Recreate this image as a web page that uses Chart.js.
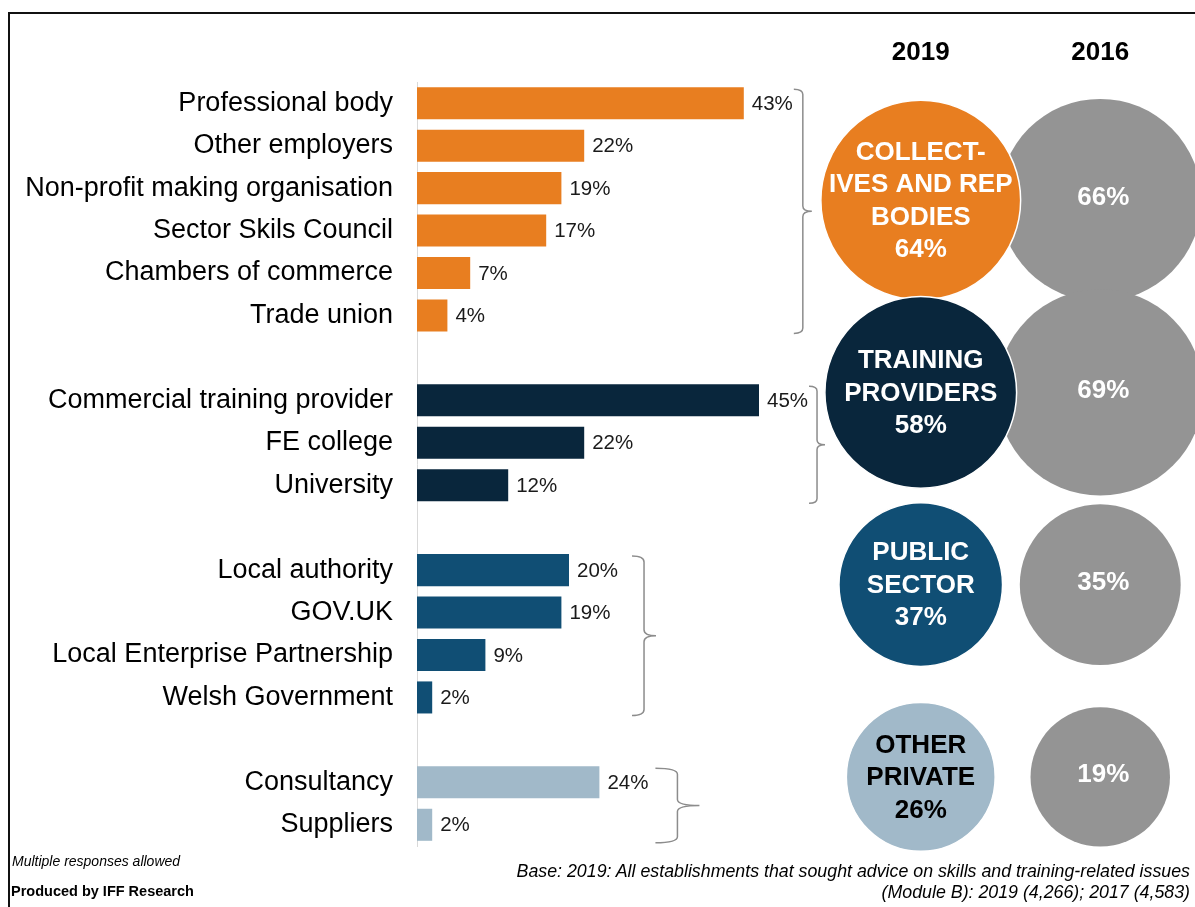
<!DOCTYPE html>
<html>
<head>
<meta charset="utf-8">
<script src="https://cdn.jsdelivr.net/npm/chart.js@4/dist/chart.umd.min.js"></script>
<style>
    html, body {
        margin: 0;
        padding: 0;
        background: #ffffff;
    }

    #page {
        position: relative;
        width: 1195px;
        height: 907px;
        overflow: hidden;
        font-family: "Liberation Sans", Arial, sans-serif;
    }

    #page canvas {
        position: absolute;
        left: 0;
        top: 0;
    }

    #frame {
        position: absolute;
        left: 8px;
        top: 12px;
        width: 1200px;
        height: 900px;
        border-top: 2px solid #111111;
        border-left: 2px solid #111111;
    }

    .note {
        position: absolute;
        color: #000000;
        white-space: nowrap;
    }
</style>
</head>
<body>
<div id="page">
    <div id="frame"></div>
    <canvas id="bars" width="1195" height="907"></canvas>
    <canvas id="circles" width="1195" height="907"></canvas>
    <div class="note" style="left: 12px; top: 853px; font-size: 14px; line-height: 16px; font-style: italic;">Multiple responses allowed</div>
    <div class="note" style="left: 11px; top: 882px; font-size: 14.5px; line-height: 18px; font-weight: bold;">Produced by IFF Research</div>
    <div class="note" style="right: 5px; top: 861px; font-size: 17.8px; line-height: 21px; font-style: italic; text-align: right;">
        Base: 2019: All establishments that sought advice on skills and training-related issues<br>(Module B): 2019 (4,266); 2017 (4,583)
    </div>
</div>

<script>
// Sources of advice, per group (% of establishments)
const LABELS_COLLECTIVES = ["Professional body", "Other employers", "Non-profit making organisation", "Sector Skils Council", "Chambers of commerce", "Trade union"];
const VALUES_COLLECTIVES = [43, 22, 19, 17, 7, 4];

const LABELS_TRAINING = ["Commercial training provider", "FE college", "University"];
const VALUES_TRAINING = [45, 22, 12];

const LABELS_PUBLIC = ["Local authority", "GOV.UK", "Local Enterprise Partnership", "Welsh Government"];
const VALUES_PUBLIC = [20, 19, 9, 2];

const LABELS_PRIVATE = ["Consultancy", "Suppliers"];
const VALUES_PRIVATE = [24, 2];

// Group totals shown in the circles
const GROUP_TITLES = [["COLLECT-", "IVES AND REP", "BODIES"], ["TRAINING", "PROVIDERS"], ["PUBLIC", "SECTOR"], ["OTHER", "PRIVATE"]];
const TOTALS_2019 = [64, 58, 37, 26];
const TOTALS_2016 = [66, 69, 35, 19];
const YEARS = ["2019", "2016"];

// Styling
const FONT = "'Liberation Sans', Arial, sans-serif";
const GROUP_COLORS = ["#E87E20", "#09263C", "#104E74", "#A1B9C9"];
const GROUP_TEXT_COLORS = ["#ffffff", "#ffffff", "#ffffff", "#000000"];
const GREY = "#949494";
const BRACE_GAP = [10, 9, 26, 29];     // space between widest value label and brace
const BRACE_ARM = [9, 8, 12, 22];      // length of the brace hooks and tip

// Build one category axis with an empty row between groups
var groups = [
    [LABELS_COLLECTIVES, VALUES_COLLECTIVES],
    [LABELS_TRAINING, VALUES_TRAINING],
    [LABELS_PUBLIC, VALUES_PUBLIC],
    [LABELS_PRIVATE, VALUES_PRIVATE]
];

var labels = [];
var values = [];
var colors = [];
var group_rows = [];  // [first index, last index] for each group

groups.forEach(function (group, g) {
    if (g > 0) {
        labels.push("");
        values.push(null);
        colors.push("rgba(0,0,0,0)");
    }

    var first = labels.length;

    group[0].forEach(function (label, i) {
        labels.push(label);
        values.push(group[1][i]);
        colors.push(GROUP_COLORS[g]);
    });

    group_rows.push([first, labels.length - 1]);
});

// Value labels to the right of each bar
var value_labels = {
    id: "value_labels",
    afterDatasetsDraw: function (chart) {
        var ctx = chart.ctx;
        var meta = chart.getDatasetMeta(0);

        ctx.save();
        ctx.font = "20.5px " + FONT;
        ctx.fillStyle = "#1a1a1a";
        ctx.textAlign = "left";
        ctx.textBaseline = "middle";

        meta.data.forEach(function (bar, i) {
            if (values[i] === null) {
                return;
            }

            ctx.fillText(values[i] + "%", bar.x + 8, bar.y + 1);
        });

        ctx.restore();
    }
};

// Curly braces that join each group of bars
var group_braces = {
    id: "group_braces",
    afterDatasetsDraw: function (chart) {
        var ctx = chart.ctx;
        var meta = chart.getDatasetMeta(0);
        var y_scale = chart.scales.y;

        ctx.save();
        ctx.font = "20.5px " + FONT;
        ctx.strokeStyle = "#8c8c8c";
        ctx.lineWidth = 1.5;

        group_rows.forEach(function (rows, g) {
            var right = 0;

            for (var i = rows[0]; i <= rows[1]; i++) {
                var end = meta.data[i].x + 8 + ctx.measureText(values[i] + "%").width;

                right = Math.max(right, end);
            }

            var x = right + BRACE_GAP[g];
            var w = BRACE_ARM[g];
            var r = Math.min(w * 0.6, 6);
            var top = y_scale.getPixelForValue(rows[0]) - 14;
            var bottom = y_scale.getPixelForValue(rows[1]) + 18;
            var mid = (top + bottom) / 2;

            ctx.beginPath();
            ctx.moveTo(x - w, top);
            ctx.quadraticCurveTo(x, top, x, top + r);
            ctx.lineTo(x, mid - r);
            ctx.quadraticCurveTo(x, mid, x + w, mid);
            ctx.quadraticCurveTo(x, mid, x, mid + r);
            ctx.lineTo(x, bottom - r);
            ctx.quadraticCurveTo(x, bottom, x - w, bottom);
            ctx.stroke();
        });

        ctx.restore();
    }
};

new Chart(document.getElementById("bars"), {
    type: "bar",
    data: {
        labels: labels,
        datasets: [{
            data: values,
            backgroundColor: colors,
            barPercentage: 0.755,
            categoryPercentage: 1
        }]
    },
    options: {
        indexAxis: "y",
        responsive: false,
        animation: false,
        devicePixelRatio: 1,
        events: [],
        layout: {
            autoPadding: false,
            padding: {left: 0, right: 322, top: 82, bottom: 61}
        },
        scales: {
            x: {
                display: false,
                min: 0,
                max: 60
            },
            y: {
                afterFit: function (scale) {
                    scale.width = 417;
                },
                grid: {
                    display: false,
                    drawTicks: false
                },
                border: {
                    display: true,
                    color: "#d9d9d9",
                    width: 1
                },
                ticks: {
                    autoSkip: false,
                    padding: 24,
                    color: "#000000",
                    font: {
                        family: FONT,
                        size: 27
                    }
                }
            }
        },
        plugins: {
            legend: {display: false},
            tooltip: {enabled: false},
            title: {display: false}
        }
    },
    plugins: [value_labels, group_braces]
});

// Year headings and the text inside the circles
var circle_text = {
    id: "circle_text",
    afterDatasetsDraw: function (chart) {
        var ctx = chart.ctx;
        var x_scale = chart.scales.x;

        ctx.save();
        ctx.textAlign = "center";
        ctx.textBaseline = "middle";
        ctx.font = "bold 26px " + FONT;
        ctx.fillStyle = "#000000";

        YEARS.forEach(function (year, i) {
            ctx.fillText(year, x_scale.getPixelForValue(i), chart.chartArea.top - 51);
        });

        var line_height = 32.5;

        chart.getDatasetMeta(0).data.forEach(function (circle, g) {
            var lines = GROUP_TITLES[g].concat([TOTALS_2019[g] + "%"]);
            var y = circle.y - (lines.length - 1) * line_height / 2;

            ctx.fillStyle = GROUP_TEXT_COLORS[g];

            lines.forEach(function (line, i) {
                ctx.fillText(line, circle.x, y + i * line_height + 1);
            });
        });

        ctx.fillStyle = "#ffffff";

        chart.getDatasetMeta(1).data.forEach(function (circle, g) {
            ctx.fillText(TOTALS_2016[g] + "%", circle.x + 3, circle.y - 2);
        });

        ctx.restore();
    }
};

function circle_radius (context) {
    return 57 + 0.67 * context.raw.v;
}

new Chart(document.getElementById("circles"), {
    type: "bubble",
    data: {
        datasets: [
            {
                data: TOTALS_2019.map(function (v, g) {
                    return {x: 0, y: g, v: v};
                }),
                backgroundColor: GROUP_COLORS,
                borderColor: "#ffffff",
                borderWidth: 1.5,
                radius: circle_radius,
                clip: false
            },
            {
                data: TOTALS_2016.map(function (v, g) {
                    return {x: 1, y: g, v: v};
                }),
                backgroundColor: GREY,
                borderWidth: 0,
                radius: circle_radius,
                clip: false
            }
        ]
    },
    options: {
        responsive: false,
        animation: false,
        devicePixelRatio: 1,
        events: [],
        layout: {
            autoPadding: false,
            padding: {left: 831, right: 5, top: 104, bottom: 34}
        },
        scales: {
            x: {
                display: false,
                min: -0.5,
                max: 1.5
            },
            y: {
                display: false,
                reverse: true,
                min: -0.5,
                max: 3.5
            }
        },
        plugins: {
            legend: {display: false},
            tooltip: {enabled: false}
        }
    },
    plugins: [circle_text]
});
</script>
</body>
</html>
